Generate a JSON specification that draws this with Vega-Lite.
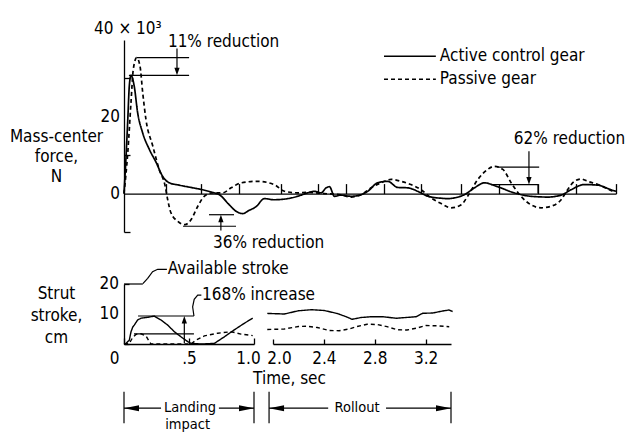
{
"$schema": "https://vega.github.io/schema/vega-lite/v6.json",
"background": "white",
"padding": {"left": 9, "top": 20, "right": 5, "bottom": 5},
"bounds": "flush",
"spacing": 52,
"config": {
 "font": "Liberation Sans Narrow, DejaVu Sans Condensed, Arial Narrow, sans-serif",
 "view": {"stroke": null},
 "axis": {"grid": false, "domainColor": "black", "tickColor": "black", "labelColor": "black", "titleColor": "black", "labelFontSize": 17, "titleFontSize": 17, "titleFontWeight": "normal", "domainWidth": 1.3, "tickWidth": 1.3, "labelFlush": false, "labelOverlap": false},
 "text": {"fontSize": 17, "color": "black"},
 "line": {"color": "black"},
 "rule": {"color": "black"}
},
"datasets": {
 "force": [
  {"gear":"Active control gear","t":0,"v":0},{"gear":"Active control gear","t":0.005,"v":8.9},{"gear":"Active control gear","t":0.010,"v":19.3},{"gear":"Active control gear","t":0.014,"v":28.0},{"gear":"Active control gear","t":0.0185,"v":30.8},{"gear":"Active control gear","t":0.027,"v":28.0},{"gear":"Active control gear","t":0.036,"v":21.1},{"gear":"Active control gear","t":0.049,"v":15.9},{"gear":"Active control gear","t":0.067,"v":11.5},{"gear":"Active control gear","t":0.085,"v":8.1},{"gear":"Active control gear","t":0.102,"v":4.5},{"gear":"Active control gear","t":0.120,"v":2.8},{"gear":"Active control gear","t":0.146,"v":2.2},{"gear":"Active control gear","t":0.182,"v":1.5},{"gear":"Active control gear","t":0.208,"v":1.0},{"gear":"Active control gear","t":0.234,"v":0.3},{"gear":"Active control gear","t":0.252,"v":-0.3},{"gear":"Active control gear","t":0.278,"v":-2.9},{"gear":"Active control gear","t":0.296,"v":-4.6},{"gear":"Active control gear","t":0.314,"v":-5.2},{"gear":"Active control gear","t":0.330,"v":-4.4},{"gear":"Active control gear","t":0.349,"v":-3.4},{"gear":"Active control gear","t":0.371,"v":-1.3},{"gear":"Active control gear","t":0.396,"v":-1.6},{"gear":"Active control gear","t":0.433,"v":-1.3},{"gear":"Active control gear","t":0.468,"v":-0.4},{"gear":"Active control gear","t":0.485,"v":0.2},{"gear":"Active control gear","t":0.503,"v":0.6},{"gear":"Active control gear","t":0.521,"v":0.2},{"gear":"Active control gear","t":0.534,"v":1.5},{"gear":"Active control gear","t":0.543,"v":1.8},{"gear":"Active control gear","t":0.556,"v":-0.7},{"gear":"Active control gear","t":0.573,"v":-0.4},{"gear":"Active control gear","t":0.600,"v":-0.7},{"gear":"Active control gear","t":0.626,"v":-0.3},{"gear":"Active control gear","t":0.644,"v":0.6},{"gear":"Active control gear","t":0.670,"v":2.8},{"gear":"Active control gear","t":0.697,"v":3.2},{"gear":"Active control gear","t":0.723,"v":1.6},{"gear":"Active control gear","t":0.750,"v":1.5},{"gear":"Active control gear","t":0.776,"v":0.6},{"gear":"Active control gear","t":0.803,"v":-0.7},{"gear":"Active control gear","t":0.838,"v":-1.2},{"gear":"Active control gear","t":0.855,"v":-1.3},{"gear":"Active control gear","t":0.899,"v":-0.3},{"gear":"Active control gear","t":0.926,"v":1.5},{"gear":"Active control gear","t":0.952,"v":2.8},{"gear":"Active control gear","t":0.987,"v":1.8},{"gear":"Active control gear","t":1.031,"v":0.2},{"gear":"Active control gear","t":1.075,"v":-0.7},{"gear":"Active control gear","t":1.120,"v":-0.9},{"gear":"Active control gear","t":1.155,"v":-0.4},{"gear":"Active control gear","t":1.181,"v":1.0},{"gear":"Active control gear","t":1.216,"v":2.35},{"gear":"Active control gear","t":1.252,"v":2.2},{"gear":"Active control gear","t":1.287,"v":1.0},{"gear":"Active control gear","t":1.300,"v":0.6},
  {"gear":"Passive gear","t":0,"v":0},{"gear":"Passive gear","t":0.010,"v":10.7},{"gear":"Passive gear","t":0.0185,"v":23.8},{"gear":"Passive gear","t":0.0246,"v":32.4},{"gear":"Passive gear","t":0.0336,"v":35.4},{"gear":"Passive gear","t":0.0423,"v":33.2},{"gear":"Passive gear","t":0.0494,"v":26.3},{"gear":"Passive gear","t":0.058,"v":19.3},{"gear":"Passive gear","t":0.076,"v":12.4},{"gear":"Passive gear","t":0.093,"v":6.3},{"gear":"Passive gear","t":0.109,"v":1.9},{"gear":"Passive gear","t":0.1155,"v":-1.6},{"gear":"Passive gear","t":0.124,"v":-5.0},{"gear":"Passive gear","t":0.142,"v":-7.2},{"gear":"Passive gear","t":0.161,"v":-8.1},{"gear":"Passive gear","t":0.177,"v":-6.8},{"gear":"Passive gear","t":0.195,"v":-3.3},{"gear":"Passive gear","t":0.212,"v":-0.7},{"gear":"Passive gear","t":0.234,"v":0.2},{"gear":"Passive gear","t":0.261,"v":0.2},{"gear":"Passive gear","t":0.283,"v":1.5},{"gear":"Passive gear","t":0.309,"v":2.8},{"gear":"Passive gear","t":0.353,"v":3.2},{"gear":"Passive gear","t":0.397,"v":2.35},{"gear":"Passive gear","t":0.424,"v":0.6},{"gear":"Passive gear","t":0.459,"v":0.2},{"gear":"Passive gear","t":0.485,"v":0.3},{"gear":"Passive gear","t":0.529,"v":0},{"gear":"Passive gear","t":0.573,"v":-0.3},{"gear":"Passive gear","t":0.600,"v":-0.9},{"gear":"Passive gear","t":0.626,"v":-0.3},{"gear":"Passive gear","t":0.653,"v":1.5},{"gear":"Passive gear","t":0.679,"v":2.8},{"gear":"Passive gear","t":0.706,"v":3.7},{"gear":"Passive gear","t":0.732,"v":3.2},{"gear":"Passive gear","t":0.758,"v":2.35},{"gear":"Passive gear","t":0.785,"v":1.0},{"gear":"Passive gear","t":0.811,"v":-1.1},{"gear":"Passive gear","t":0.838,"v":-2.6},{"gear":"Passive gear","t":0.864,"v":-3.7},{"gear":"Passive gear","t":0.891,"v":-2.9},{"gear":"Passive gear","t":0.908,"v":-0.7},{"gear":"Passive gear","t":0.935,"v":3.7},{"gear":"Passive gear","t":0.961,"v":6.3},{"gear":"Passive gear","t":0.978,"v":7.1},{"gear":"Passive gear","t":1.001,"v":6.3},{"gear":"Passive gear","t":1.023,"v":2.8},{"gear":"Passive gear","t":1.049,"v":-0.7},{"gear":"Passive gear","t":1.075,"v":-2.9},{"gear":"Passive gear","t":1.102,"v":-3.7},{"gear":"Passive gear","t":1.128,"v":-3.3},{"gear":"Passive gear","t":1.155,"v":-1.6},{"gear":"Passive gear","t":1.172,"v":1.0},{"gear":"Passive gear","t":1.190,"v":3.2},{"gear":"Passive gear","t":1.208,"v":3.8},{"gear":"Passive gear","t":1.225,"v":3.2},{"gear":"Passive gear","t":1.252,"v":2.35},{"gear":"Passive gear","t":1.278,"v":1.2},{"gear":"Passive gear","t":1.296,"v":0.4}
 ],
 "force_legend": [
  {"gear":"Active control gear","t":0.687,"t2":0.824,"v":35.8},
  {"gear":"Passive gear","t":0.687,"t2":0.824,"v":29.8}
 ],
 "force_notes": [
  {"t":0.034,"t2":0.172,"v":35.4,"v2":35.4},
  {"t":0.013,"t2":0.172,"v":30.8,"v2":30.8},
  {"t":0.14,"t2":0.14,"v":37.8,"v2":32.2},
  {"t":0.2246,"t2":0.2907,"v":-5.5,"v2":-5.5},
  {"t":0.156,"t2":0.296,"v":-8.5,"v2":-8.5},
  {"t":0.256,"t2":0.256,"v":-9.6,"v2":-7.0},
  {"t":0.987,"t2":1.097,"v":6.87,"v2":6.87},
  {"t":0.97,"t2":1.094,"v":2.35,"v2":2.35},
  {"t":1.094,"t2":1.094,"v":0,"v2":2.35},
  {"t":1.07,"t2":1.07,"v":11,"v2":4.0}
 ],
 "force_arrows": [
  {"t":0.14,"v":30.8,"dir":"down"},
  {"t":0.256,"v":-5.5,"dir":"up"},
  {"t":1.07,"v":2.35,"dir":"down"}
 ],
 "force_text": [
  {"label":"11% reduction","t":0.116,"v":39.4},
  {"label":"36% reduction","t":0.235,"v":-12.8},
  {"label":"62% reduction","t":1.03,"v":14.1},
  {"label":"40 × 10³","t":-0.079,"v":42.8}
 ],
 "force_ylabels": [
  {"label":"0","t":0,"v":0},
  {"label":"20","t":0,"v":20}
 ],
 "stroke_landing": [
  {"gear":"Active control gear","t":0,"v":0},{"gear":"Active control gear","t":0.015,"v":0.2},{"gear":"Active control gear","t":0.041,"v":1.3},{"gear":"Active control gear","t":0.054,"v":4.1},{"gear":"Active control gear","t":0.067,"v":5.6},{"gear":"Active control gear","t":0.079,"v":6.3},{"gear":"Active control gear","t":0.105,"v":8.0},{"gear":"Active control gear","t":0.131,"v":8.6},{"gear":"Active control gear","t":0.182,"v":8.9},{"gear":"Active control gear","t":0.233,"v":9.3},{"gear":"Active control gear","t":0.285,"v":8.0},{"gear":"Active control gear","t":0.336,"v":6.3},{"gear":"Active control gear","t":0.387,"v":4.1},{"gear":"Active control gear","t":0.438,"v":2.4},{"gear":"Active control gear","t":0.49,"v":0.8},{"gear":"Active control gear","t":0.515,"v":0.2},{"gear":"Active control gear","t":0.6,"v":0},{"gear":"Active control gear","t":0.695,"v":0.2},{"gear":"Active control gear","t":0.772,"v":2.4},{"gear":"Active control gear","t":0.848,"v":4.7},{"gear":"Active control gear","t":0.925,"v":6.9},{"gear":"Active control gear","t":0.99,"v":8.6},
  {"gear":"Passive gear","t":0,"v":0},{"gear":"Passive gear","t":0.041,"v":0.2},{"gear":"Passive gear","t":0.067,"v":2.2},{"gear":"Passive gear","t":0.092,"v":3.2},{"gear":"Passive gear","t":0.131,"v":3.4},{"gear":"Passive gear","t":0.169,"v":2.7},{"gear":"Passive gear","t":0.195,"v":0.8},{"gear":"Passive gear","t":0.208,"v":0},{"gear":"Passive gear","t":0.515,"v":0},{"gear":"Passive gear","t":0.554,"v":1.3},{"gear":"Passive gear","t":0.618,"v":2.7},{"gear":"Passive gear","t":0.721,"v":3.6},{"gear":"Passive gear","t":0.823,"v":4.1},{"gear":"Passive gear","t":0.9,"v":3.3},{"gear":"Passive gear","t":0.99,"v":2.8}
 ],
 "landing_ylabels": [
  {"label":"10","t":0,"v":10},
  {"label":"20","t":0,"v":20}
 ],
 "landing_notes": [
  {"t":0,"t2":0.145,"v":20,"v2":20},
  {"t":0.108,"t2":0.538,"v":9.33,"v2":9.33},
  {"t":0.077,"t2":0.538,"v":3.4,"v2":3.4},
  {"t":0.464,"t2":0.464,"v":0.3,"v2":7.2},
  {"t":0,"t2":0,"v":-15.9,"v2":-26.4},
  {"t":1,"t2":1,"v":-15.9,"v2":-26.4},
  {"t":0,"t2":0.285,"v":-21.4,"v2":-21.4},
  {"t":0.73,"t2":1,"v":-21.4,"v2":-21.4}
 ],
 "landing_leaders": [
  {"id":"avail","i":0,"t":0.145,"v":20.1},{"id":"avail","i":1,"t":0.182,"v":21.9},{"id":"avail","i":2,"t":0.22,"v":24.1},{"id":"avail","i":3,"t":0.259,"v":24.9},{"id":"avail","i":4,"t":0.33,"v":24.9},
  {"id":"inc","i":0,"t":0.538,"v":9.33},{"id":"inc","i":1,"t":0.528,"v":12.4},{"id":"inc","i":2,"t":0.54,"v":14.9},{"id":"inc","i":3,"t":0.567,"v":16.3},{"id":"inc","i":4,"t":0.595,"v":16.3}
 ],
 "landing_arrows": [
  {"t":0.464,"v":9.33,"dir":"up"},
  {"t":0,"v":-21.4,"dir":"left"},
  {"t":1,"v":-21.4,"dir":"right"}
 ],
 "landing_text": [
  {"label":"Available stroke","t":0.336,"v":24.9},
  {"label":"168% increase","t":0.6,"v":16.3}
 ],
 "landing_dim": [
  {"label":"Landing","t":0.508,"v":-21.3},
  {"label":"impact","t":0.49,"v":-26.9}
 ],
 "stroke_rollout": [
  {"gear":"Active control gear","t":1.955,"v":10.2},{"gear":"Active control gear","t":2.089,"v":10.0},{"gear":"Active control gear","t":2.199,"v":11.07},{"gear":"Active control gear","t":2.301,"v":11.43},{"gear":"Active control gear","t":2.403,"v":11.17},{"gear":"Active control gear","t":2.505,"v":10.17},{"gear":"Active control gear","t":2.575,"v":9.1},{"gear":"Active control gear","t":2.622,"v":8.23},{"gear":"Active control gear","t":2.693,"v":8.83},{"gear":"Active control gear","t":2.772,"v":9.1},{"gear":"Active control gear","t":2.866,"v":9.1},{"gear":"Active control gear","t":2.968,"v":8.57},{"gear":"Active control gear","t":3.046,"v":8.83},{"gear":"Active control gear","t":3.125,"v":9.1},{"gear":"Active control gear","t":3.177,"v":10.23},{"gear":"Active control gear","t":3.256,"v":10.33},{"gear":"Active control gear","t":3.334,"v":11.0},{"gear":"Active control gear","t":3.384,"v":11.33},{"gear":"Active control gear","t":3.413,"v":10.83},
  {"gear":"Passive gear","t":1.955,"v":4.83},{"gear":"Passive gear","t":2.089,"v":5.0},{"gear":"Passive gear","t":2.199,"v":5.83},{"gear":"Passive gear","t":2.269,"v":5.93},{"gear":"Passive gear","t":2.348,"v":5.5},{"gear":"Passive gear","t":2.442,"v":4.5},{"gear":"Passive gear","t":2.52,"v":4.43},{"gear":"Passive gear","t":2.599,"v":5.0},{"gear":"Passive gear","t":2.662,"v":5.83},{"gear":"Passive gear","t":2.74,"v":6.6},{"gear":"Passive gear","t":2.819,"v":6.5},{"gear":"Passive gear","t":2.897,"v":5.77},{"gear":"Passive gear","t":2.976,"v":4.77},{"gear":"Passive gear","t":3.054,"v":4.67},{"gear":"Passive gear","t":3.132,"v":5.33},{"gear":"Passive gear","t":3.203,"v":6.17},{"gear":"Passive gear","t":3.282,"v":6.07},{"gear":"Passive gear","t":3.386,"v":5.77}
 ],
 "rollout_notes": [
  {"t":1.969,"t2":1.969,"v":-15.9,"v2":-26.4},
  {"t":3.4,"t2":3.4,"v":-15.9,"v2":-26.4},
  {"t":1.969,"t2":2.434,"v":-21.4,"v2":-21.4},
  {"t":2.889,"t2":3.4,"v":-21.4,"v2":-21.4}
 ],
 "rollout_arrows": [
  {"t":1.969,"v":-21.4,"dir":"left"},
  {"t":3.4,"v":-21.4,"dir":"right"}
 ],
 "rollout_dim": [
  {"label":"Rollout","t":2.661,"v":-21.3}
 ]
},
"vconcat": [
 {
  "width": 492, "height": 192,
  "layer": [
   {
    "data": {"name": "force"},
    "mark": {"type": "line", "strokeWidth": 1.7, "interpolate": "monotone"},
    "encoding": {
     "x": {"field": "t", "type": "quantitative", "scale": {"domain": [0, 1.3]},
           "axis": {"orient": "top", "offset": -153.6, "values": [0.111, 0.203, 0.304, 0.415, 0.513, 0.587, 0.687, 0.785, 0.89, 0.991, 1.094, 1.194, 1.3], "labels": false, "tickSize": 10, "title": null}},
     "y": {"field": "v", "type": "quantitative", "scale": {"domain": [-10, 40]},
           "axis": {"orient": "right", "offset": -492, "values": [-10, 0, 10, 20, 30, 40], "tickSize": 6, "labels": false, "title": ["Mass-center", "force,", "N"], "titleAngle": 0, "titleAlign": "center", "titleBaseline": "top", "titleX": -68, "titleY": 88, "titleLineHeight": 20}},
     "strokeDash": {"field": "gear", "type": "nominal", "scale": {"domain": ["Active control gear", "Passive gear"], "range": [[1, 0], [4, 3]]}, "legend": null}
    }
   },
   {
    "data": {"name": "force_legend"},
    "mark": {"type": "rule", "strokeWidth": 1.5},
    "encoding": {
     "x": {"field": "t", "type": "quantitative"}, "x2": {"field": "t2"},
     "y": {"field": "v", "type": "quantitative"},
     "strokeDash": {"field": "gear", "type": "nominal", "legend": null}
    }
   },
   {
    "data": {"name": "force_legend"},
    "mark": {"type": "text", "align": "left", "baseline": "middle", "dx": 4},
    "encoding": {
     "x": {"field": "t2", "type": "quantitative"},
     "y": {"field": "v", "type": "quantitative"},
     "text": {"field": "gear"}
    }
   },
   {
    "data": {"name": "force_notes"},
    "mark": {"type": "rule", "strokeWidth": 1.2},
    "encoding": {
     "x": {"field": "t", "type": "quantitative"}, "x2": {"field": "t2"},
     "y": {"field": "v", "type": "quantitative"}, "y2": {"field": "v2"}
    }
   },
   {
    "data": {"name": "force_arrows"},
    "mark": {"type": "point", "filled": true, "size": 225, "opacity": 1, "color": "black", "strokeWidth": 0},
    "encoding": {
     "x": {"field": "t", "type": "quantitative"},
     "y": {"field": "v", "type": "quantitative"},
     "shape": {"field": "dir", "type": "nominal", "scale": {"domain": ["left", "right", "up", "down"], "range": ["M0,0L2,-0.4L2,0.4Z", "M0,0L-2,-0.4L-2,0.4Z", "M0,0L-0.35,1L0.35,1Z", "M0,0L-0.35,-1L0.35,-1Z"]}, "legend": null}
    }
   },
   {
    "data": {"name": "force_text"},
    "mark": {"type": "text", "align": "left", "baseline": "middle"},
    "encoding": {
     "x": {"field": "t", "type": "quantitative"},
     "y": {"field": "v", "type": "quantitative"},
     "text": {"field": "label"}
    }
   },
   {
    "data": {"name": "force_ylabels"},
    "mark": {"type": "text", "align": "right", "baseline": "middle", "dx": -4},
    "encoding": {
     "x": {"field": "t", "type": "quantitative"},
     "y": {"field": "v", "type": "quantitative"},
     "text": {"field": "label"}
    }
   }
  ]
 },
 {
  "hconcat": [
   {
    "width": 130, "height": 60,
    "layer": [
     {
      "data": {"name": "stroke_landing"},
      "mark": {"type": "line", "strokeWidth": 1.4},
      "encoding": {
       "x": {"field": "t", "type": "quantitative", "scale": {"domain": [0, 1]},
             "axis": {"orient": "top", "offset": -60, "values": [0, 0.5, 1], "tickSize": 6, "labelPadding": -12, "labelBaseline": "top", "labelOverlap": false, "labelExpr": "datum.value == 0 ? '0' : datum.value == 0.5 ? '.5' : '1.0'", "labelOffset": {"condition": [{"test": "datum.value == 0", "value": -10}, {"test": "datum.value == 1", "value": -6}], "value": 0}, "title": null}},
       "y": {"field": "v", "type": "quantitative", "scale": {"domain": [0, 20]},
             "axis": {"orient": "right", "offset": -130, "values": [0, 10, 20], "tickSize": 5, "labels": false, "title": ["Strut", "stroke,", "cm"], "titleAngle": 0, "titleAlign": "center", "titleBaseline": "top", "titleX": -68, "titleY": 1, "titleLineHeight": 22}},
       "strokeDash": {"field": "gear", "type": "nominal", "scale": {"domain": ["Active control gear", "Passive gear"], "range": [[1, 0], [2, 2]]}, "legend": null}
      }
     },
     {
      "data": {"name": "landing_notes"},
      "mark": {"type": "rule", "strokeWidth": 1.2},
      "encoding": {
       "x": {"field": "t", "type": "quantitative"}, "x2": {"field": "t2"},
       "y": {"field": "v", "type": "quantitative"}, "y2": {"field": "v2"}
      }
     },
     {
      "data": {"name": "landing_leaders"},
      "mark": {"type": "line", "strokeWidth": 1.2},
      "encoding": {
       "x": {"field": "t", "type": "quantitative"},
       "y": {"field": "v", "type": "quantitative"},
       "detail": {"field": "id"},
       "order": {"field": "i", "type": "quantitative"}
      }
     },
     {
      "data": {"name": "landing_arrows"},
      "mark": {"type": "point", "filled": true, "size": 225, "opacity": 1, "color": "black", "strokeWidth": 0},
      "encoding": {
       "x": {"field": "t", "type": "quantitative"},
       "y": {"field": "v", "type": "quantitative"},
       "shape": {"field": "dir", "type": "nominal", "scale": {"domain": ["left", "right", "up", "down"], "range": ["M0,0L2,-0.4L2,0.4Z", "M0,0L-2,-0.4L-2,0.4Z", "M0,0L-0.35,1L0.35,1Z", "M0,0L-0.35,-1L0.35,-1Z"]}, "legend": null}
      }
     },
     {
      "data": {"name": "landing_text"},
      "mark": {"type": "text", "align": "left", "baseline": "middle"},
      "encoding": {
       "x": {"field": "t", "type": "quantitative"},
       "y": {"field": "v", "type": "quantitative"},
       "text": {"field": "label"}
      }
     },
     {
      "data": {"name": "landing_ylabels"},
      "mark": {"type": "text", "align": "right", "baseline": "middle", "dx": -5},
      "encoding": {
       "x": {"field": "t", "type": "quantitative"},
       "y": {"field": "v", "type": "quantitative"},
       "text": {"field": "label"}
      }
     },
     {
      "data": {"name": "landing_dim"},
      "mark": {"type": "text", "align": "center", "baseline": "middle", "fontSize": 14.5},
      "encoding": {
       "x": {"field": "t", "type": "quantitative"},
       "y": {"field": "v", "type": "quantitative"},
       "text": {"field": "label"}
      }
     }
    ]
   },
   {
    "width": 178, "height": 60,
    "layer": [
     {
      "data": {"name": "stroke_rollout"},
      "mark": {"type": "line", "strokeWidth": 1.4},
      "encoding": {
       "x": {"field": "t", "type": "quantitative", "scale": {"domain": [2, 3.4]},
             "axis": {"orient": "top", "offset": -60, "values": [2, 2.2, 2.4, 2.6, 2.8, 3, 3.2, 3.4], "tickSize": 5, "labelPadding": -11, "labelBaseline": "top", "labelOverlap": false, "labelExpr": "(datum.value == 2 || datum.value == 2.4 || datum.value == 2.8 || datum.value == 3.2) ? format(datum.value, '.1f') : ''", "labelOffset": {"condition": {"test": "datum.value == 2", "value": 6}, "value": 0}, "title": "Time, sec", "titleX": 16, "titleY": 34, "titleAlign": "center", "titleBaseline": "middle"}},
       "y": {"field": "v", "type": "quantitative", "scale": {"domain": [0, 20]}, "axis": null},
       "strokeDash": {"field": "gear", "type": "nominal", "scale": {"domain": ["Active control gear", "Passive gear"], "range": [[1, 0], [2, 2]]}, "legend": null}
      }
     },
     {
      "data": {"name": "rollout_notes"},
      "mark": {"type": "rule", "strokeWidth": 1.2},
      "encoding": {
       "x": {"field": "t", "type": "quantitative"}, "x2": {"field": "t2"},
       "y": {"field": "v", "type": "quantitative"}, "y2": {"field": "v2"}
      }
     },
     {
      "data": {"name": "rollout_arrows"},
      "mark": {"type": "point", "filled": true, "size": 225, "opacity": 1, "color": "black", "strokeWidth": 0},
      "encoding": {
       "x": {"field": "t", "type": "quantitative"},
       "y": {"field": "v", "type": "quantitative"},
       "shape": {"field": "dir", "type": "nominal", "scale": {"domain": ["left", "right", "up", "down"], "range": ["M0,0L2,-0.4L2,0.4Z", "M0,0L-2,-0.4L-2,0.4Z", "M0,0L-0.35,1L0.35,1Z", "M0,0L-0.35,-1L0.35,-1Z"]}, "legend": null}
      }
     },
     {
      "data": {"name": "rollout_dim"},
      "mark": {"type": "text", "align": "center", "baseline": "middle", "fontSize": 14.5},
      "encoding": {
       "x": {"field": "t", "type": "quantitative"},
       "y": {"field": "v", "type": "quantitative"},
       "text": {"field": "label"}
      }
     }
    ]
   }
  ],
  "spacing": 19,
  "bounds": "flush"
 }
]
}
